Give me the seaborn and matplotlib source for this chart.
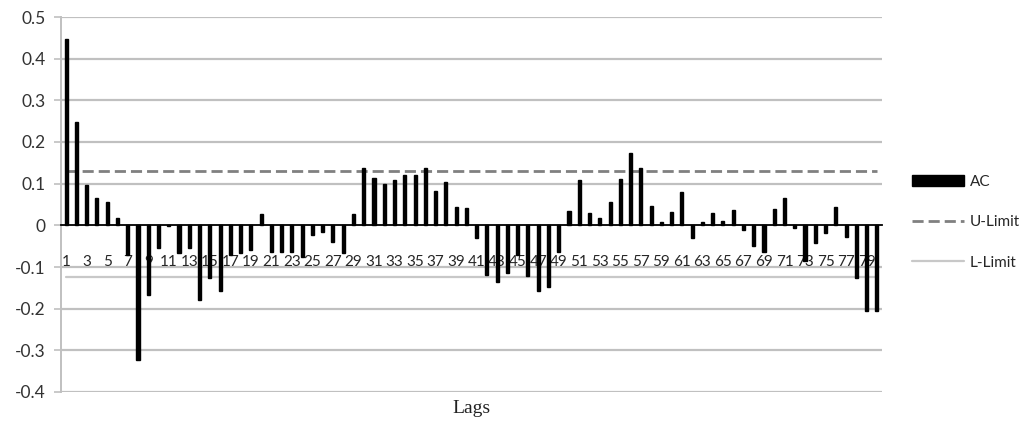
import numpy as np
import pandas as pd
import matplotlib
matplotlib.use("Agg")
import matplotlib.pyplot as plt
import seaborn as sns
from matplotlib.patches import Patch
from matplotlib.lines import Line2D

# autocorrelation per lag
lags = list(range(1, 81))
ac = [0.448, 0.249, 0.097, 0.065, 0.057, 0.017, -0.071, -0.323, -0.167, -0.055,
      -0.002, -0.067, -0.055, -0.179, -0.127, -0.158, -0.070, -0.067, -0.060, 0.028,
      -0.063, -0.065, -0.063, -0.075, -0.023, -0.015, -0.040, -0.067, 0.026, 0.137,
      0.113, 0.100, 0.109, 0.120, 0.120, 0.137, 0.082, 0.105, 0.045, 0.041,
      -0.031, -0.119, -0.136, -0.115, -0.071, -0.121, -0.158, -0.148, -0.065, 0.034,
      0.109, 0.029, 0.017, 0.057, 0.112, 0.173, 0.137, 0.047, 0.007, 0.031,
      0.081, -0.031, 0.007, 0.030, 0.010, 0.037, -0.011, -0.049, -0.063, 0.039,
      0.066, -0.007, -0.085, -0.043, -0.019, 0.045, -0.027, -0.127, -0.205, -0.205]
u_limit = 0.13
l_limit = -0.123
y_ticks = [0.5, 0.4, 0.3, 0.2, 0.1, 0.0, -0.1, -0.2, -0.3, -0.4]

df = pd.DataFrame({"lag": lags, "AC": ac})
df["U-Limit"] = u_limit
df["L-Limit"] = l_limit
df["pos"] = np.arange(len(df))

sns.set_theme(style="white")
plt.rcParams["font.family"] = ["Lato", "DejaVu Sans"]
plt.rcParams["axes.unicode_minus"] = False

fig = plt.figure(figsize=(10.29, 4.25), dpi=100)
ax = fig.add_axes([61 / 1029, 33 / 425, 821 / 1029, 375 / 425])

grid_c = "#c0c0c0"
for t in y_ticks:
    if t != 0:
        ax.axhline(t, color=grid_c, lw=1.6, zorder=0)

sns.barplot(data=df, x="lag", y="AC", color="black", saturation=1,
            width=0.3, edgecolor="black", linewidth=1.0, ax=ax, zorder=3)

ax.plot(df["pos"], df["U-Limit"], color="#808080", lw=2.0,
        dashes=(4, 1.8), zorder=2)
ax.plot(df["pos"], df["L-Limit"], color="#c8c8c8", lw=1.6, zorder=2)

ax.set_xlim(-0.5, len(df) - 0.5)
ax.set_ylim(-0.4, 0.5)
ax.set_yticks(y_ticks)
ax.set_yticklabels([f"{t:g}" for t in y_ticks], fontsize=12.5, color="#333333")
ax.tick_params(axis="y", length=5, width=1.2, color=grid_c, pad=6, left=True)

ax.set_xticks(df["pos"][::2])
ax.set_xticklabels([str(v) for v in df["lag"][::2]], fontsize=13,
                   color="#333333")
ax.tick_params(axis="x", length=0, pad=21)

ax.spines["bottom"].set_position(("data", 0))
ax.spines["bottom"].set_color("black")
ax.spines["bottom"].set_linewidth(1.3)
ax.spines["bottom"].set_zorder(4)
ax.spines["left"].set_color(grid_c)
ax.spines["left"].set_linewidth(1.4)
ax.spines["top"].set_visible(False)
ax.spines["right"].set_visible(False)

ax.set_ylabel("")
ax.set_xlabel("Lags", fontsize=14, family="Liberation Serif", color="#222222")
ax.xaxis.set_label_coords(0.5, -0.022)

handles = [Patch(facecolor="black", edgecolor="black"),
           Line2D([], [], color="#808080", lw=2.0, dashes=(4, 1.8)),
           Line2D([], [], color="#c8c8c8", lw=1.6)]
fig.legend(handles, ["AC", "U-Limit", "L-Limit"], loc="upper left",
           bbox_to_anchor=(912 / 1029, 1 - 175 / 425), frameon=False,
           fontsize=11, handlelength=3.4, handletextpad=0.4,
           labelspacing=1.72, borderpad=0, borderaxespad=0)

fig.savefig("out.png", dpi=100)
